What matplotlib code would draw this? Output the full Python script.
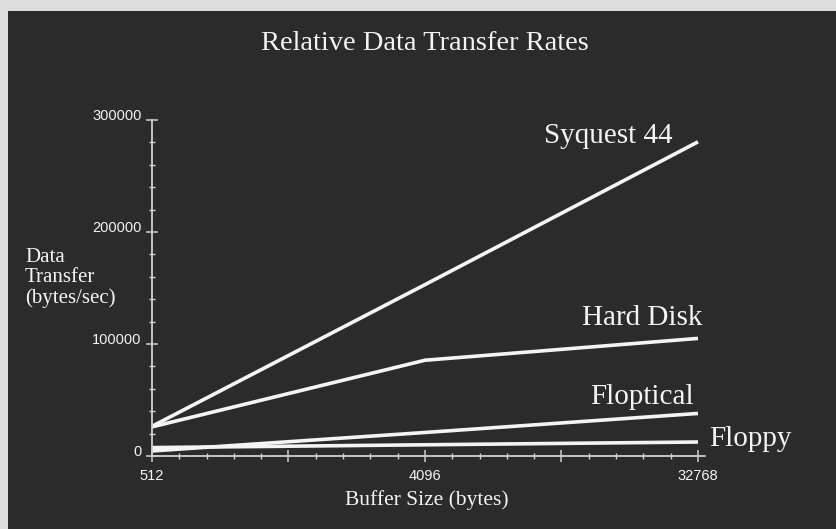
import numpy as np
import matplotlib
matplotlib.use("Agg")
import matplotlib.pyplot as plt
import matplotlib.transforms as mtrans
from matplotlib.patches import Rectangle
from matplotlib.ticker import FixedLocator, FixedFormatter, MultipleLocator

##########
########## Donnees
##########

buffer_size = [512, 4096, 32768]
syquest = [26500, 153000, 280500]
hard_disk = [26000, 85500, 105000]
floptical = [4500, 21000, 38000]
floppy = [7500, 10000, 12500]

series = [("Syquest 44", syquest), ("Hard Disk", hard_disk),
          ("Floptical", floptical), ("Floppy", floppy)]

x_major = [512, 2 ** 10.5, 4096, 2 ** 13.5, 32768]
x_major_lab = ["512", "", "4096", "", "32768"]

##########
########## Style
##########

fond = "#2b2b2b"
bord = "#dcdcdc"
blanc = "#f4f4f4"
gris = "#cfcfcf"
serif = ["Liberation Serif", "DejaVu Serif"]

# decalage des etiquettes (points) par rapport au dernier point
decal = {"Syquest 44": (-18, 4, "right"), "Hard Disk": (3, 15, "right"),
         "Floptical": (-3, 12, "right"), "Floppy": (8, 2, "left")}

##########
########## Figure
##########

fig = plt.figure(figsize=(8.36, 5.29), dpi=100, facecolor=bord)
fig.patches.append(Rectangle((8 / 836, 0), 1, 1 - 11 / 529, transform=fig.transFigure,
                             facecolor=fond, edgecolor="none", zorder=-10))

ax = fig.add_axes([152 / 836, 1 - 456 / 529, 553 / 836, 336 / 529])
ax.set_facecolor("none")
ax.set_zorder(2)

for nom, vals in series:
    ax.plot(buffer_size, vals, color=blanc, lw=2.6, solid_capstyle="butt", clip_on=False)
    dx, dy, ha = decal[nom]
    ax.annotate(nom, (buffer_size[-1], vals[-1]), xytext=(dx, dy), textcoords="offset points",
                ha=ha, va="center", color=blanc, fontsize=21, family=serif)

ax.set_xscale("log", base=2)
ax.set_xlim(512, 2 ** 15.077)
ax.set_ylim(0, 300000)

ax.xaxis.set_major_locator(FixedLocator(x_major))
ax.xaxis.set_major_formatter(FixedFormatter(x_major_lab))
ax.xaxis.set_minor_locator(FixedLocator(2 ** np.arange(9, 15.01, 0.3)))
ax.xaxis.set_minor_formatter(FixedFormatter([]))
ax.yaxis.set_major_locator(MultipleLocator(100000))
ax.yaxis.set_minor_locator(MultipleLocator(20000))
ax.yaxis.set_major_formatter(lambda v, p: "%d" % v)

for s in ["top", "right"]:
    ax.spines[s].set_visible(False)
for s in ["left", "bottom"]:
    ax.spines[s].set_color(gris)
    ax.spines[s].set_linewidth(1.3)

ax.tick_params(which="major", direction="inout", length=9, width=1.1, color=gris,
               labelcolor=blanc, labelsize=10.5)
ax.tick_params(which="minor", direction="inout", length=4, width=1.0, color=gris)
ax.tick_params(axis="x", which="major", pad=5)
ax.tick_params(axis="y", which="major", pad=3)

# etiquettes y un peu au-dessus des graduations
remonte = mtrans.ScaledTranslation(0, 6 / 100, fig.dpi_scale_trans)
for t in ax.get_yticklabels():
    t.set_transform(t.get_transform() + remonte)
for t in ax.get_xticklabels() + ax.get_yticklabels():
    t.set_family(["Liberation Sans", "DejaVu Sans"])

fig.text(425 / 836, 1 - 43 / 529, "Relative Data Transfer Rates", ha="center", va="center",
         color=blanc, fontsize=20.5, family=serif)
fig.text(427 / 836, 1 - 500 / 529, "Buffer Size (bytes)", ha="center", va="center",
         color=blanc, fontsize=15.5, family=serif)
fig.text(25 / 836, 1 - 278 / 529, "Data\nTransfer\n(bytes/sec)", ha="left", va="center",
         color=blanc, fontsize=15, family=serif, linespacing=1.05)

fig.savefig("out.png", dpi=100, facecolor=fig.get_facecolor())
